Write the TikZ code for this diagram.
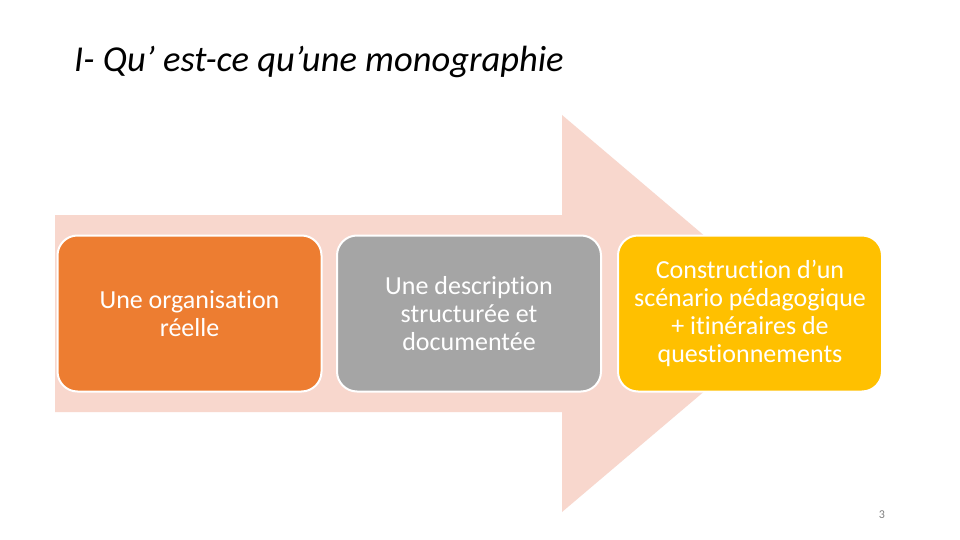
\documentclass[tikz,border=0pt]{standalone}
\usepackage{fontspec}
\setmainfont[Ligatures=NoCommon]{Carlito}
\definecolor{arrowpink}{HTML}{F8D7CD}
\definecolor{boxorange}{HTML}{ED7D31}
\definecolor{boxgray}{HTML}{A5A5A5}
\definecolor{boxyellow}{HTML}{FFC000}
\tikzset{
  stepbox/.style={draw=white, line width=2pt, rounded corners=20pt, minimum width=264pt, minimum height=156pt, text=white, align=center, font=\fontsize{26pt}{28pt}\selectfont, inner sep=0pt},
}
\begin{document}
\begin{tikzpicture}[x=1pt,y=-1pt]
\useasboundingbox (0,0) rectangle (960,540);
\fill[white] (0,0) rectangle (960,540);
% big arrow
\fill[arrowpink] (55,215) -- (562,215) -- (562,115) -- (796,313.5) -- (562,512) -- (562,412) -- (55,412) -- cycle;
% title
\node[anchor=base west, inner sep=0pt, font=\fontsize{36.5pt}{40pt}\selectfont\itshape] (title) at (74,72) {I- Qu’ est-ce qu’une monographie};
% boxes
\node[stepbox, fill=boxorange] (b1) at (189.5,313.5) {Une organisation\\réelle};
\node[stepbox, fill=boxgray] (b2) at (469,313.5) {Une description\\structurée et\\documentée};
\node[stepbox, fill=boxyellow] (b3) at (750,313.5) {Construction d’un\\scénario pédagogique\\+ itinéraires de\\questionnements};
% page number
\node[anchor=base, inner sep=0pt, text=gray, font=\fontsize{12pt}{14pt}\selectfont] (pg) at (882,518) {3};
\end{tikzpicture}
\end{document}
